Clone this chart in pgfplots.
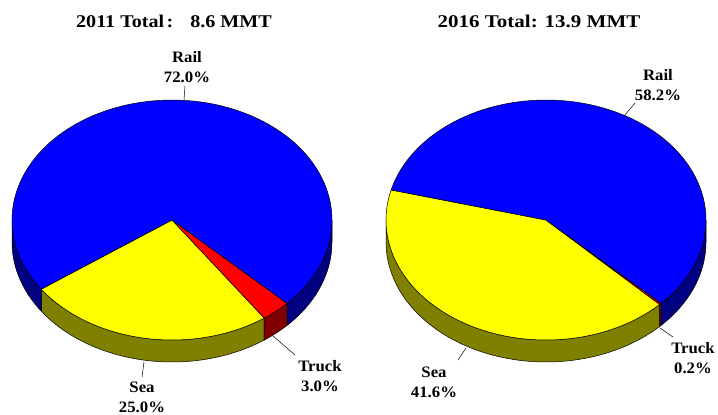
\documentclass[border=0pt]{standalone}
\usepackage{pgfplots}
\pgfplotsset{compat=1.18}
\usepackage{fontspec}
\setmainfont{Liberation Serif}
\definecolor{pblue}{RGB}{0,0,255}
\definecolor{pnavy}{RGB}{0,0,128}
\definecolor{pyellow}{RGB}{255,255,0}
\definecolor{polive}{RGB}{128,128,0}
\definecolor{pred}{RGB}{255,0,0}
\definecolor{pmaroon}{RGB}{128,0,0}
% data (percent)
\def\LSea{25.0}\def\LTruck{3.0}\def\LRail{72.0}
\def\RSea{41.6}\def\RTruck{0.2}\def\RRail{58.2}
% start angles of the Sea slice
\pgfmathsetmacro\La{215.2}
\pgfmathsetmacro\Lb{\La+3.6*\LSea}
\pgfmathsetmacro\Lc{\Lb+3.6*\LTruck}
\pgfmathsetmacro\Ld{\Lc+3.6*\LRail}
\pgfmathsetmacro\Ra{165.5}
\pgfmathsetmacro\Rb{\Ra+3.6*\RSea}
\pgfmathsetmacro\Rc{\Rb+3.6*\RTruck}
\pgfmathsetmacro\Rd{\Rc+3.6*\RRail}
\newcommand{\topslice}[4]{%
\addplot[fill=#4, draw=black, line width=0.5pt, line join=round, samples at={-1,0,0.0125,...,1,1}]
 ({((\x<0) ? (#1) : (#1+160*cos(#2+(#3-#2)*\x)))},
  {((\x<0) ? (195) : (195+120*sin(#2+(#3-#2)*\x)))}) -- cycle;}
\newcommand{\sideslice}[4]{%
\addplot[fill=#4, draw=black, line width=0.5pt, line join=round, samples at={0,0.0125,...,1,1,1.0001,1.0125,...,2,2}]
 ({#1+160*cos(((\x<=1) ? (#2+(#3-#2)*\x) : (#3-(#3-#2)*(\x-1))))},
  {195+120*sin(((\x<=1) ? (#2+(#3-#2)*\x) : (#3-(#3-#2)*(\x-1)))) - ((\x>1) ? 22 : 0)}) -- cycle;}
\begin{document}
\begin{tikzpicture}
\begin{axis}[scale only axis, width=718bp, height=415bp,
  xmin=0, xmax=718, ymin=0, ymax=415, hide axis, clip=false]
\addplot[draw=none] coordinates {(0,0) (718,415)};
% left pie: side walls
\sideslice{172}{\La}{\Lb}{polive}
\sideslice{172}{\Lb}{\Lc}{pmaroon}
\sideslice{172}{\Lc}{360}{pnavy}
\sideslice{172}{180}{\La}{pnavy}
% left pie: top
\topslice{172}{\La}{\Lb}{pyellow}
\topslice{172}{\Lb}{\Lc}{pred}
\topslice{172}{\Lc}{\Ld}{pblue}
% right pie: side walls
\sideslice{546}{180}{\Rb}{polive}
\sideslice{546}{\Rb}{\Rc}{pmaroon}
\sideslice{546}{\Rc}{360}{pnavy}
% right pie: top
\topslice{546}{\Ra}{\Rb}{pyellow}
\topslice{546}{\Rb}{\Rc}{pred}
\topslice{546}{\Rc}{\Rd}{pblue}
% leader lines
\addplot[black, line width=0.5pt] coordinates {(184,315) (185,329)};
\addplot[black, line width=0.5pt] coordinates {(144,53) (142,38)};
\addplot[black, line width=0.5pt] coordinates {(273,79) (295,60)};
\addplot[black, line width=0.5pt] coordinates {(625,300) (635,312)};
\addplot[black, line width=0.5pt] coordinates {(466,67) (458,55)};
\addplot[black, line width=0.5pt] coordinates {(660,87) (673,78)};
% labels
\tikzset{lab/.style={align=center, inner sep=0pt, xscale=1.05, font=\bfseries\fontsize{16}{20}\selectfont}}
\node[lab] at (axis cs:187,348) {Rail\\\LRail\%};
\node[lab] at (axis cs:142,18) {Sea\\\LSea\%};
\node[lab] at (axis cs:320,39) {Truck\\\LTruck\%};
\node[lab] at (axis cs:658,330) {Rail\\\RRail\%};
\node[lab] at (axis cs:434,33) {Sea\\\RSea\%};
\node[lab] at (axis cs:693,57) {Truck\\\RTruck\%};
% titles
\node[inner sep=0pt, xscale=1.12, font=\bfseries\fontsize{18}{20}\selectfont] at (axis cs:174,394) {2011 Total\hspace{0.12em}:\hspace{0.85em}8.6 MMT};
\node[inner sep=0pt, xscale=1.17, font=\bfseries\fontsize{18}{20}\selectfont] at (axis cs:539,394) {2016 Total: 13.9 MMT};
\end{axis}
\end{tikzpicture}
\end{document}
